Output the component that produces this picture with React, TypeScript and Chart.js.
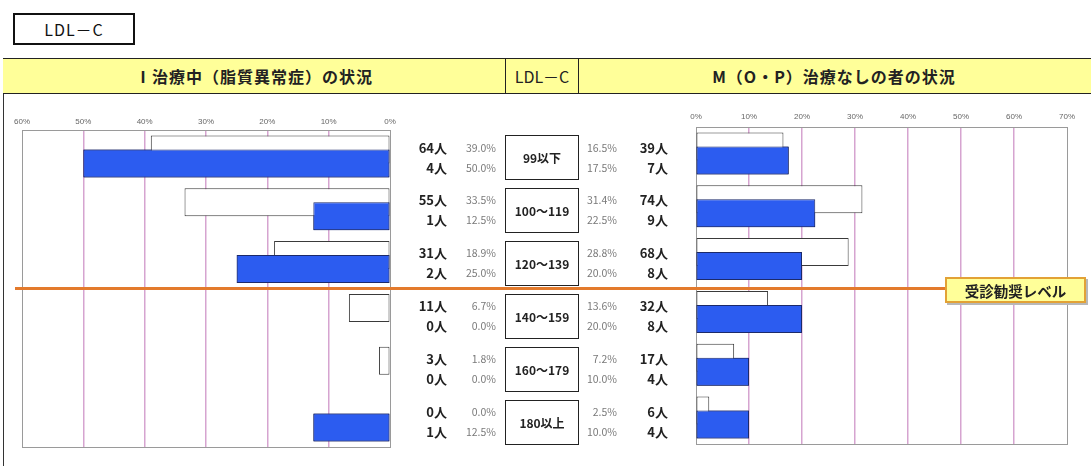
import React, { useEffect, useRef } from 'react';
import { Chart, registerables } from 'chart.js';

Chart.register(...registerables);

// ---------- data ----------
const categories = ['99以下', '100～119', '120～139', '140～159', '160～179', '180以上'];

// I 治療中（脂質異常症）
const treatedAllCounts = [64, 55, 31, 11, 3, 0];
const treatedAllPct = [39.0, 33.5, 18.9, 6.7, 1.8, 0.0];
const treatedSubCounts = [4, 1, 2, 0, 0, 1];
const treatedSubPct = [50.0, 12.5, 25.0, 0.0, 0.0, 12.5];

// M（O・P）治療なしの者
const untreatedAllCounts = [39, 74, 68, 32, 17, 6];
const untreatedAllPct = [16.5, 31.4, 28.8, 13.6, 7.2, 2.5];
const untreatedSubCounts = [7, 9, 8, 8, 4, 4];
const untreatedSubPct = [17.5, 22.5, 20.0, 20.0, 10.0, 10.0];

const leftAxisMax = 60;
const rightAxisMax = 70;
const axisStep = 10;
const levelBoundary = 2.5; // between 120～139 and 140～159

const titleText = 'LDL－C';
const headerLeft = 'Ⅰ治療中（脂質異常症）の状況';
const headerMid = 'LDL－C';
const headerRight = 'M（O・P）治療なしの者の状況';
const levelLabel = '受診勧奨レベル';

// ---------- styles ----------
const FONT = '"Noto Sans CJK JP", "Noto Sans", sans-serif';
const BLUE = '#2C5CF0';
const NAVY = '#1C2A6A';
const PINK = '#D6A4D0';
const GRAY = '#9A9A9A';
const ORANGE = '#E37A2C';
const YELLOW = '#FFFF99';

const CW = 1091;
const CH = 360;
const CTOP = 100;

function fmtPct(v: number) {
  return v.toFixed(1) + '%';
}

const framePlugin = {
  id: 'frame',
  beforeDatasetsDraw(chart: any) {
    const { left, top, right, bottom } = chart.chartArea;
    const ctx = chart.ctx;
    ctx.save();
    ctx.strokeStyle = GRAY;
    ctx.lineWidth = 1;
    ctx.strokeRect(Math.round(left) + 0.5, Math.round(top) + 0.5, Math.round(right - left), Math.round(bottom - top));
    ctx.restore();
  },
};

// the second (blue) series overlaps the first one and sits on top of it
const blueOnTopPlugin = {
  id: 'blueOnTop',
  afterDatasetsDraw(chart: any) {
    const meta = chart.getDatasetMeta(1);
    const ctx = chart.ctx;
    ctx.save();
    meta.data.forEach((el: any) => el.draw(ctx, chart.chartArea));
    ctx.restore();
  },
};

const levelPlugin = {
  id: 'level',
  afterDatasetsDraw(chart: any) {
    const y = chart.scales.y.getPixelForValue(levelBoundary);
    const ctx = chart.ctx;
    ctx.save();
    ctx.strokeStyle = ORANGE;
    ctx.lineWidth = 3;
    ctx.beginPath();
    ctx.moveTo(15, y);
    ctx.lineTo(1084, y);
    ctx.stroke();
    ctx.restore();
  },
};

function makeConfig(opts: {
  white: number[];
  blue: number[];
  max: number;
  reverse: boolean;
  padding: { left: number; right: number; top: number; bottom: number };
  tickPad: number;
  plugins: any[];
}): any {
  const isEdge = (c: any) => c.tick && (c.tick.value === 0 || c.tick.value === opts.max);
  return {
    type: 'bar',
    data: {
      labels: categories,
      datasets: [
        {
          data: opts.white,
          backgroundColor: '#FFFFFF',
          borderColor: '#3A3A3A',
          borderWidth: 1,
          borderSkipped: false,
          categoryPercentage: 0.53,
          barPercentage: 2,
        },
        {
          data: opts.blue,
          backgroundColor: BLUE,
          borderColor: NAVY,
          borderWidth: 1,
          borderSkipped: false,
          categoryPercentage: 0.53,
          barPercentage: 2,
        },
      ],
    },
    options: {
      indexAxis: 'y',
      animation: false,
      responsive: false,
      maintainAspectRatio: false,
      events: [],
      layout: { padding: opts.padding },
      plugins: { legend: { display: false }, tooltip: { enabled: false } },
      scales: {
        x: {
          type: 'linear',
          position: 'top',
          reverse: opts.reverse,
          min: 0,
          max: opts.max,
          afterFit: (s: any) => {
            s.height = 14;
          },
          ticks: {
            stepSize: axisStep,
            autoSkip: false,
            maxRotation: 0,
            padding: opts.tickPad,
            color: '#666',
            font: { size: 8, family: '"Liberation Sans", sans-serif' },
            callback: (v: any) => v + '%',
          },
          grid: {
            drawTicks: false,
            lineWidth: (c: any) => (isEdge(c) ? 1 : 1.5),
            color: (c: any) => (isEdge(c) ? GRAY : PINK),
          },
          border: { display: false },
        },
        y: { type: 'category', display: false, offset: true },
      },
    },
    plugins: opts.plugins,
  };
}

const rowCenter0 = 157.5;
const rowPitch = 52.9;

export default function App() {
  const leftRef = useRef<HTMLCanvasElement>(null);
  const rightRef = useRef<HTMLCanvasElement>(null);

  useEffect(() => {
    const right = new Chart(
      rightRef.current as HTMLCanvasElement,
      makeConfig({
        white: untreatedAllPct,
        blue: untreatedSubPct,
        max: rightAxisMax,
        reverse: false,
        padding: { left: 696, right: 24, top: 13, bottom: 16 },
        tickPad: 5,
        plugins: [framePlugin, blueOnTopPlugin],
      })
    );
    const left = new Chart(
      leftRef.current as HTMLCanvasElement,
      makeConfig({
        white: treatedAllPct,
        blue: treatedSubPct,
        max: leftAxisMax,
        reverse: true,
        padding: { left: 22, right: 701, top: 16, bottom: 13 },
        tickPad: 3,
        plugins: [framePlugin, blueOnTopPlugin, levelPlugin],
      })
    );
    return () => {
      left.destroy();
      right.destroy();
    };
  }, []);

  const abs = (s: React.CSSProperties): React.CSSProperties => ({ position: 'absolute', ...s });
  const countStyle: React.CSSProperties = {
    fontFamily: FONT,
    fontWeight: 700,
    fontSize: 13,
    color: '#222',
    textAlign: 'right',
    height: 18,
    lineHeight: '18px',
    whiteSpace: 'nowrap',
  };
  const pctStyle: React.CSSProperties = {
    fontFamily: FONT,
    fontSize: 10.5,
    color: '#7A7A7A',
    textAlign: 'right',
    height: 18,
    lineHeight: '18px',
    whiteSpace: 'nowrap',
  };

  return (
    <div style={abs({ left: 0, top: 0, width: CW, height: 466, background: '#fff', overflow: 'hidden' })}>
      {/* title box */}
      <div
        style={abs({
          left: 13,
          top: 13,
          width: 122,
          height: 32,
          boxSizing: 'border-box',
          border: '2px solid #111',
          display: 'flex',
          alignItems: 'center',
          justifyContent: 'center',
          fontFamily: FONT,
          fontSize: 16,
          letterSpacing: 1,
          color: '#111',
        })}
      >
        {titleText}
      </div>

      {/* left frame */}
      <div style={abs({ left: 3, top: 58, width: 0, height: 420, borderLeft: '1.5px solid #333' })} />

      {/* header band */}
      <div
        style={abs({
          left: 3,
          top: 58,
          width: CW - 3,
          height: 36,
          boxSizing: 'border-box',
          background: YELLOW,
          borderTop: '1.5px solid #222',
          borderBottom: '1.5px solid #222',
        })}
      />
      <div style={abs({ left: 505, top: 58, width: 74, height: 36, boxSizing: 'border-box', borderLeft: '1px solid #222', borderRight: '1px solid #222' })} />
      <div
        style={abs({
          left: 3,
          top: 58,
          width: 502,
          height: 36,
          display: 'flex',
          alignItems: 'center',
          justifyContent: 'center',
          fontFamily: FONT,
          fontWeight: 700,
          fontSize: 16,
          letterSpacing: 1,
          color: '#222',
        })}
      >
        {headerLeft}
      </div>
      <div
        style={abs({
          left: 505,
          top: 58,
          width: 74,
          height: 36,
          display: 'flex',
          alignItems: 'center',
          justifyContent: 'center',
          fontFamily: FONT,
          fontSize: 16,
          color: '#222',
        })}
      >
        {headerMid}
      </div>
      <div
        style={abs({
          left: 579,
          top: 58,
          width: 510,
          height: 36,
          display: 'flex',
          alignItems: 'center',
          justifyContent: 'center',
          fontFamily: FONT,
          fontWeight: 700,
          fontSize: 16,
          letterSpacing: 1,
          color: '#222',
        })}
      >
        {headerRight}
      </div>

      {/* charts */}
      <canvas ref={rightRef} width={CW} height={CH} style={abs({ left: 0, top: CTOP, width: CW, height: CH, zIndex: 1 })} />
      <canvas ref={leftRef} width={CW} height={CH} style={abs({ left: 0, top: CTOP, width: CW, height: CH, zIndex: 2 })} />

      {/* middle table */}
      {categories.map((cat, i) => {
        const c = rowCenter0 + rowPitch * i;
        const t1 = c - 10 - 9;
        const t2 = c + 10 - 9;
        return (
          <React.Fragment key={cat}>
            <div style={abs({ ...countStyle, left: 400, width: 47, top: t1, zIndex: 3 })}>{treatedAllCounts[i]}人</div>
            <div style={abs({ ...countStyle, left: 400, width: 47, top: t2, zIndex: 3 })}>{treatedSubCounts[i]}人</div>
            <div style={abs({ ...pctStyle, left: 450, width: 46, top: t1, zIndex: 3 })}>{fmtPct(treatedAllPct[i])}</div>
            <div style={abs({ ...pctStyle, left: 450, width: 46, top: t2, zIndex: 3 })}>{fmtPct(treatedSubPct[i])}</div>
            <div
              style={abs({
                left: 505,
                top: c - 22.5,
                width: 74,
                height: 45,
                boxSizing: 'border-box',
                border: '1px solid #222',
                background: '#fff',
                display: 'flex',
                alignItems: 'center',
                justifyContent: 'center',
                fontFamily: FONT,
                fontWeight: 700,
                fontSize: 12,
                color: '#222',
                zIndex: 3,
              })}
            >
              {cat}
            </div>
            <div style={abs({ ...pctStyle, left: 570, width: 47, top: t1, zIndex: 3 })}>{fmtPct(untreatedAllPct[i])}</div>
            <div style={abs({ ...pctStyle, left: 570, width: 47, top: t2, zIndex: 3 })}>{fmtPct(untreatedSubPct[i])}</div>
            <div style={abs({ ...countStyle, left: 620, width: 48, top: t1, zIndex: 3 })}>{untreatedAllCounts[i]}人</div>
            <div style={abs({ ...countStyle, left: 620, width: 48, top: t2, zIndex: 3 })}>{untreatedSubCounts[i]}人</div>
          </React.Fragment>
        );
      })}

      {/* level label */}
      <div
        style={abs({
          left: 945,
          top: 277,
          width: 141,
          height: 26,
          boxSizing: 'border-box',
          background: YELLOW,
          border: '2px solid #E2A236',
          boxShadow: '2px 2px 0 #B8B8B8',
          display: 'flex',
          alignItems: 'center',
          justifyContent: 'center',
          fontFamily: FONT,
          fontWeight: 700,
          fontSize: 14.5,
          color: '#222',
          zIndex: 4,
        })}
      >
        {levelLabel}
      </div>
    </div>
  );
}
